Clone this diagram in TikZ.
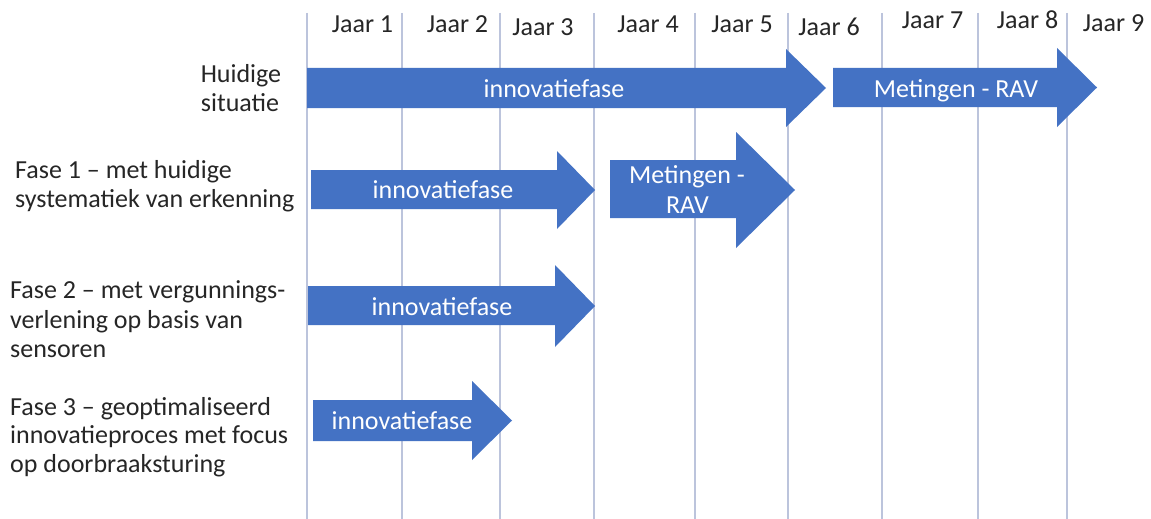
\documentclass[tikz,border=0pt]{standalone}
\usepackage{fontspec}
\setmainfont{Carlito}
\definecolor{arrblue}{HTML}{4472C4}
\definecolor{gridc}{HTML}{BCC4DC}
\definecolor{txtgray}{HTML}{262626}
\newcommand\blkarrow[7]{%
  \fill[blk] (#1,#4) -- (#2,#4) -- (#2,#6) -- (#3,{(#6+#7)/2}) -- (#2,#7) -- (#2,#5) -- (#1,#5) -- cycle;}
\begin{document}
\begin{tikzpicture}[x=1pt,y=-1pt,
  yr/.style={anchor=base, inner sep=0pt, font=\fontsize{26}{30}\selectfont, text=txtgray},
  lbl/.style={anchor=base west, inner sep=0pt, font=\fontsize{26}{30}\selectfont, text=txtgray},
  lblc/.style={anchor=base, inner sep=0pt, font=\fontsize{26}{30}\selectfont, text=txtgray},
  arrtxt/.style={anchor=base, inner sep=0pt, font=\fontsize{26}{30}\selectfont, text=white},
  gridline/.style={draw=gridc, line width=1.3pt},
  blk/.style={fill=arrblue}]
\useasboundingbox[fill=white] (0,0) rectangle (1151,519);
% vertical year lines
\foreach \xx in {307,402,500,594,695,788,882,978,1067}
  \draw[gridline] (\xx,13) -- (\xx,519);
% year labels
\node[yr] (j1) at (362.5,33) {Jaar 1};
\node[yr] (j2) at (457.5,33) {Jaar 2};
\node[yr] (j3) at (543,35.5) {Jaar 3};
\node[yr] (j4) at (648,33) {Jaar 4};
\node[yr] (j5) at (742,33) {Jaar 5};
\node[yr] (j6) at (829,35.5) {Jaar 6};
\node[yr] (j7) at (932.5,28.5) {Jaar 7};
\node[yr] (j8) at (1027.5,28.5) {Jaar 8};
\node[yr] (j9) at (1113.5,32) {Jaar 9};
% row labels
\node[lblc] (h1) at (241,82) {Huidige};
\node[lblc] (h2) at (240,111.5) {situatie};
\node[lbl] (f1a) at (15,178) {Fase 1 – met huidige};
\node[lbl] (f1b) at (15,207) {systematiek van erkenning};
\node[lbl] (f2a) at (10,298) {Fase 2 – met vergunnings-};
\node[lbl] (f2b) at (10,328) {verlening op basis van};
\node[lbl] (f2c) at (10,357) {sensoren};
\node[lbl] (f3a) at (10,415) {Fase 3 – geoptimaliseerd};
\node[lbl] (f3b) at (10,443.5) {innovatieproces met focus};
\node[lbl] (f3c) at (10,472) {op doorbraaksturing};
% arrows
\blkarrow{307}{786}{826}{68}{108}{49}{127}
\blkarrow{833}{1057}{1097}{68}{107}{48}{127}
\blkarrow{311}{557}{595}{170}{209}{151}{229}
\blkarrow{610}{736}{795}{160}{218}{132}{248}
\blkarrow{308}{555}{595}{286}{325}{265}{347}
\blkarrow{313}{472}{512}{400}{441}{381}{460}
% arrow texts
\node[arrtxt] (a1) at (554,97) {innovatiefase};
\node[arrtxt] (a2) at (956,97) {Metingen - RAV};
\node[arrtxt] (a3) at (443,198) {innovatiefase};
\node[arrtxt] (a4a) at (687,183) {Metingen -};
\node[arrtxt] (a4b) at (687.5,213) {RAV};
\node[arrtxt] (a5) at (442,315) {innovatiefase};
\node[arrtxt] (a6) at (402,429) {innovatiefase};
\end{tikzpicture}
\end{document}
